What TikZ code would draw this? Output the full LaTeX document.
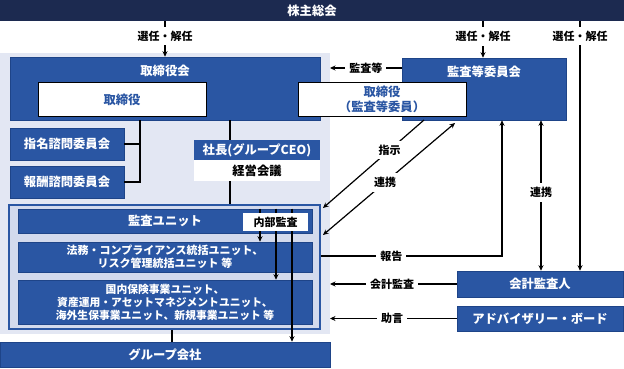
\documentclass[tikz,border=0pt]{standalone}
\usepackage{fontspec}
\setmainfont{Noto Sans CJK JP}
\usetikzlibrary{arrows.meta}
\definecolor{navy}{HTML}{1C2A50}
\definecolor{corp}{HTML}{2A56A3}
\definecolor{corpedge}{HTML}{1E4488}
\definecolor{panel}{HTML}{E3E7F3}
\definecolor{inner}{HTML}{D3DAED}
\tikzset{
  bluebox/.style={draw=corpedge, line width=0.6pt, fill=corp, text=white, font=\fontsize{12.3}{14}\selectfont\bfseries, inner sep=0pt, align=center},
  subbox/.style={bluebox, font=\fontsize{11}{13.5}\selectfont\bfseries},
  whitebox/.style={draw=black, line width=1pt, fill=white, text=corp, font=\fontsize{12.3}{14.5}\selectfont\bfseries, inner sep=0pt, align=center},
  plainbox/.style={fill=white, text=black, font=\fontsize{12.3}{14}\selectfont\bfseries, inner sep=0pt, align=center},
  lbl/.style={fill=white, text=black, font=\fontsize{11}{12}\selectfont\bfseries, inner sep=4pt},
  conn/.style={line width=1.2pt, draw=black},
  arr/.style={conn, -{Stealth[length=5.5pt,width=5pt]}},
  darr/.style={conn, {Stealth[length=5.5pt,width=5pt]}-{Stealth[length=5.5pt,width=5pt]}}
}
\begin{document}
\begin{tikzpicture}[x=1pt,y=-1pt]
\useasboundingbox (0,0) rectangle (624,369);
% background panel
\fill[panel] (0,53) rectangle (330,334);
% top bar
\node[fill=navy, text=white, font=\fontsize{12.3}{14}\selectfont\bfseries, minimum width=624pt, minimum height=21pt, inner sep=0pt] (ga) at (312,10.5) {株主総会};
% board
\node[bluebox, minimum width=310pt, minimum height=63pt] (bod) at (165,88.5) {};
\node[text=white, font=\fontsize{12.3}{14}\selectfont\bfseries, inner sep=0pt] (bodt) at (165,71) {取締役会};
% audit committee
\node[bluebox, minimum width=164pt, minimum height=62pt] (acm) at (484,89) {};
\node[text=white, font=\fontsize{12.3}{14}\selectfont\bfseries, inner sep=0pt] (acmt) at (484,72) {監査等委員会};
% directors
\node[whitebox, minimum width=168pt, minimum height=33pt] (dir) at (122,99.5) {取締役};
\node[whitebox, minimum width=168pt, minimum height=33pt] (adir) at (382,99.5) {取締役\\（監査等委員）};
% advisory committees
\node[bluebox, minimum width=114pt, minimum height=32pt] (nom) at (67,144) {指名諮問委員会};
\node[bluebox, minimum width=114pt, minimum height=32pt] (rem) at (67,182) {報酬諮問委員会};
\coordinate (j) at (140,0);
\draw[conn] (bod.south -| j) -- (j |- rem.east) -- (rem.east);
\draw[conn] (nom.east) -- (nom.east -| j);
% president
\node[bluebox, minimum width=126pt, minimum height=20pt, draw=none] (ceo) at (257,150) {社長(グループCEO)};
\node[plainbox, minimum width=126pt, minimum height=21pt] (mgmt) at (257,170.5) {経営会議};
\coordinate (k) at (230,0);
% container
\node[draw=corp, line width=1.5pt, fill=inner, minimum width=311pt, minimum height=124pt, inner sep=0pt] (cont) at (164.5,267) {};
\draw[conn] (bod.south -| k) -- (ceo.north -| k);
\draw[conn] (mgmt.south -| k) -- (cont.north -| k);
% units
\node[bluebox, minimum width=294pt, minimum height=24pt] (audu) at (165,221) {監査ユニット};
\node[subbox, minimum width=294pt, minimum height=30pt] (legal) at (165,257) {法務・コンプライアンス統括ユニット、\\リスク管理統括ユニット 等};
\node[subbox, minimum width=294pt, minimum height=44pt, font=\fontsize{10.8}{13}\selectfont\bfseries] (biz) at (165,302) {国内保険事業ユニット、\\資産運用・アセットマネジメントユニット、\\海外生保事業ユニット、新規事業ユニット 等};
% group companies
\node[bluebox, minimum width=330pt, minimum height=25pt] (grp) at (165,354.5) {グループ会社};
\draw[conn] (cont.south -| 172,0) -- (grp.north -| 172,0);
% internal audit arrows
\coordinate (ia1) at (260,0);
\coordinate (ia2) at (276,0);
\coordinate (ia3) at (292,0);
\draw[arr] (audu.north -| ia1) -- (legal.north -| ia1);
\draw[arr] (audu.north -| ia2) -- (biz.north -| ia2);
\draw[arr] (audu.north -| ia3) -- (grp.north -| ia3);
\node[plainbox, font=\fontsize{11}{13}\selectfont\bfseries, minimum width=65pt, minimum height=18pt] (ia) at (275.5,222) {内部監査};
% auditor and advisory board
\node[bluebox, minimum width=166pt, minimum height=26pt] (auditor) at (540,284) {会計監査人};
\node[bluebox, minimum width=166pt, minimum height=25pt] (adv) at (540,318.5) {アドバイザリー・ボード};
% election arrows
\coordinate (e1) at (165,0);
\coordinate (e2) at (483,0);
\coordinate (e3) at (580,0);
\draw[arr] (ga.south -| e1) -- node[lbl, pos=0.42] {選任・解任} (bod.north -| e1);
\draw[arr] (ga.south -| e2) -- node[lbl, pos=0.42] {選任・解任} (acm.north -| e2);
\draw[arr] (ga.south -| e3) -- node[lbl, pos=0.06] {選任・解任} (auditor.north -| e3);
% audit etc.
\coordinate (pe) at (330,0);
\draw[arr] (acm.west |- 0,68) -- node[lbl] {監査等} (pe |- 0,68);
% diagonal arrows
\coordinate (d1s) at (424,120);
\coordinate (d1e) at (323,208);
\draw[arr] (d1s) -- node[lbl, pos=0.34] {指示} (d1e);
\coordinate (d2s) at (323,235);
\coordinate (d2e) at (455,123);
\draw[darr] (d2s) -- node[lbl, pos=0.47] {連携} (d2e);
% report
\coordinate (r) at (502,0);
\draw[arr] (cont.east |- 0,256) -- node[lbl, pos=0.39] {報告} (r |- 0,256) -- (acm.south -| r);
% cooperation
\coordinate (c) at (541,0);
\draw[darr] (acm.south -| c) -- node[lbl, pos=0.48] {連携} (auditor.north -| c);
% accounting audit, advice
\draw[arr] (auditor.west) -- node[lbl, pos=0.51] {会計監査} (pe |- auditor.west);
\draw[arr] (adv.west) -- node[lbl, pos=0.51] {助言} (pe |- adv.west);
\end{tikzpicture}
\end{document}
